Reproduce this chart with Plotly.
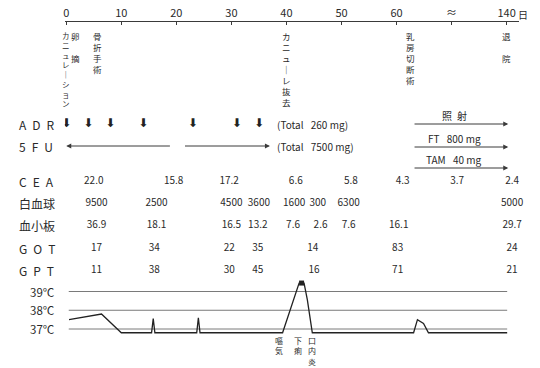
import plotly.graph_objects as go

# ---------------- data ----------------
tick_days = [0, 10, 20, 30, 40, 50, 60, 70, 80]
tick_labels = ['0', '10', '20', '30', '40', '50', '60', '≈', '140']
unit_label = '日'

event_days = [0, 1.6, 5.7, 40, 62.5, 80]
event_names = ['カニュレーション', '卵\u3000摘', '骨折手術', 'カニューレ抜去', '乳房切断術', '退\u3000院']

adr_days = [0, 4, 8, 14, 23, 31, 35]
adr_total = '(Total\u2002 260 mg)'
fu_start = [19.1, 21.3]
fu_end = [0, 37]
fu_total = '(Total\u2002 7500 mg)'

treat_names = ['照\u2002射', 'FT\u2002 800 mg', 'TAM\u2002 40 mg']
treat_start = [63, 63, 63]
treat_end = [80.3, 80.3, 80.3]

lab_names = ['CEA', '白血球', '血小板', 'GOT', 'GPT']
lab_days = [
    [5.0, 19.5, 29.6, 41.7, 51.7, 61.1, 71.0, 81.0],
    [5.5, 16.4, 30.0, 35.0, 41.4, 45.7, 51.3, 81.0],
    [5.5, 16.4, 30.0, 34.8, 41.2, 46.2, 51.3, 60.4, 81.0],
    [5.5, 16.0, 29.6, 34.8, 44.8, 60.2, 81.0],
    [5.5, 16.0, 29.6, 34.8, 45.0, 60.2, 81.0],
]
lab_values = [
    ['22.0', '15.8', '17.2', '6.6', '5.8', '4.3', '3.7', '2.4'],
    ['9500', '2500', '4500', '3600', '1600', '300', '6300', '5000'],
    ['36.9', '18.1', '16.5', '13.2', '7.6', '2.6', '7.6', '16.1', '29.7'],
    ['17', '34', '22', '35', '14', '83', '24'],
    ['11', '38', '30', '45', '16', '71', '21'],
]

temp_grid = [37, 38, 39]
temp_days = [0.5, 6.4, 10, 15.5, 15.8, 16.1, 23.7, 24, 24.3, 39.3, 42.3, 43.2, 43.8, 44.7,
             63.1, 63.8, 64.9, 65.8, 80.1]
temp_vals = [37.5, 37.8, 36.8, 36.8, 37.55, 36.8, 36.8, 37.6, 36.8, 36.8, 39.45, 39.45, 38.55, 36.8,
             36.8, 37.5, 37.3, 36.8, 36.8]
peak_day = [42.75]
peak_val = [39.45]

sym_days = [38.6, 42.1, 44.6]
sym_names = ['嘔気', '下痢', '口内炎']

# ---------------- layout helpers ----------------
W, H = 540, 368
PX0, PXD = 64.5, 5.525          # pixel of day 0, pixels per day unit
def p2d(p):
    return (p - PX0) / PXD

FONT = 'Noto Sans CJK JP, Liberation Sans, sans-serif'
TXT = '#2a2a2a'
LINE = '#3a3a3a'

row_y = {'ADR': 124, '5FU': 146, 'CEA': 181, '白血球': 203, '血小板': 225, 'GOT': 248, 'GPT': 270}
treat_line_y = [124, 147, 168]

def spaced(s):
    if s.isascii():
        return '\u2002'.join(s)
    return s

def vertical(s):
    out = []
    for ch in s:
        if ch == 'ー':
            ch = '｜'
        if ch == '\u3000':
            ch = ' '
        out.append(ch)
    return '<br>'.join(out)

fig = go.Figure()
ann = []

# temperature grid lines
for t in temp_grid:
    fig.add_trace(go.Scatter(x=[0.45, 80.1], y=[t, t], yaxis='y2', mode='lines',
                             line=dict(color='#7a7a7a', width=1), hoverinfo='skip', showlegend=False))
    ann.append(dict(x=55 / W, xref='paper', y=t, yref='y2', xanchor='right', yanchor='middle',
                    text=f'{t}℃', showarrow=False, font=dict(size=11.5, color=TXT, family=FONT)))

# temperature curve
fig.add_trace(go.Scatter(x=temp_days, y=temp_vals, yaxis='y2', mode='lines',
                         line=dict(color='#222', width=1.3), hoverinfo='skip', showlegend=False))
fig.add_trace(go.Scatter(x=peak_day, y=peak_val, yaxis='y2', mode='markers',
                         marker=dict(symbol='square', size=5, color='#222'), hoverinfo='skip', showlegend=False))

# ADR arrows
fig.add_trace(go.Scatter(x=adr_days, y=[row_y['ADR']] * len(adr_days), mode='text', text=['⬇'] * len(adr_days),
                         textfont=dict(size=12, color='#222', family='DejaVu Sans'), hoverinfo='skip', showlegend=False))

# lab values
for name, ds, vs in zip(lab_names, lab_days, lab_values):
    fig.add_trace(go.Scatter(x=ds, y=[row_y[name]] * len(ds), mode='text', text=vs,
                             textfont=dict(size=10, color=TXT, family=FONT), cliponaxis=False,
                             hoverinfo='skip', showlegend=False))

# row labels
for name in ['ADR', '5FU'] + lab_names:
    ann.append(dict(x=15 / W, xref='paper', y=row_y[name], yref='y', xanchor='left', yanchor='middle',
                    text=spaced(name), showarrow=False, font=dict(size=12, color=TXT, family=FONT)))

# totals
ann.append(dict(x=p2d(274), y=row_y['ADR'], xanchor='left', yanchor='middle', text=adr_total,
                showarrow=False, font=dict(size=10, color=TXT, family=FONT)))
ann.append(dict(x=p2d(274), y=row_y['5FU'], xanchor='left', yanchor='middle', text=fu_total,
                showarrow=False, font=dict(size=10, color=TXT, family=FONT)))

# 5FU arrows
for s, e in zip(fu_start, fu_end):
    ann.append(dict(x=e, y=row_y['5FU'], ax=s, ay=row_y['5FU'], axref='x', ayref='y', text='',
                    showarrow=True, arrowhead=2, arrowsize=1, arrowwidth=1, arrowcolor=LINE))

# treatment arrows
for nm, s, e, ly in zip(treat_names, treat_start, treat_end, treat_line_y):
    ann.append(dict(x=e, y=ly, ax=s, ay=ly, axref='x', ayref='y', text='',
                    showarrow=True, arrowhead=2, arrowsize=1, arrowwidth=1, arrowcolor=LINE))
    ann.append(dict(x=70.5, y=ly - 9, xanchor='center', yanchor='middle', text=nm, showarrow=False,
                    font=dict(size=10, color=TXT, family=FONT)))

# events (vertical text)
for d, nm in zip(event_days, event_names):
    fs = 7.5 if len(nm) > 7 else 8.5
    ann.append(dict(x=d, y=29, xanchor='center', yanchor='top', text=vertical(nm), showarrow=False,
                    borderpad=0, font=dict(size=fs, color=TXT, family=FONT)))

# symptoms (vertical text)
for d, nm in zip(sym_days, sym_names):
    ann.append(dict(x=d, y=334, xanchor='center', yanchor='top', text=vertical(nm), showarrow=False,
                    borderpad=0, font=dict(size=8, color=TXT, family=FONT)))

# unit label after 140
ann.append(dict(x=523 / W, xref='paper', y=14, yref='y', xanchor='center', yanchor='middle',
                text=unit_label, showarrow=False, font=dict(size=10, color=TXT, family=FONT)))

axis_y = 21
fig.update_layout(
    width=W, height=H, margin=dict(l=0, r=0, t=0, b=0),
    paper_bgcolor='white', plot_bgcolor='white',
    xaxis=dict(domain=[63 / W, 519 / W], range=[p2d(63), p2d(519)], anchor='free',
               position=1 - axis_y / H, side='top', showline=True, linecolor=LINE, linewidth=1,
               ticks='inside', ticklen=3, tickcolor=LINE, tickvals=tick_days, ticktext=tick_labels,
               tickfont=dict(size=11, color=TXT, family=FONT), showgrid=False, zeroline=False,
               fixedrange=True),
    yaxis=dict(domain=[0, 1], range=[H, 0], visible=False, fixedrange=True),
    yaxis2=dict(overlaying='y', range=[37 - (H - 329) / 18.75, 37 + 329 / 18.75], visible=False,
                fixedrange=True),
    annotations=ann,
    showlegend=False,
)

fig.write_html('out.html', config={'displayModeBar': False},
               post_script="document.body.style.margin='0px';")
